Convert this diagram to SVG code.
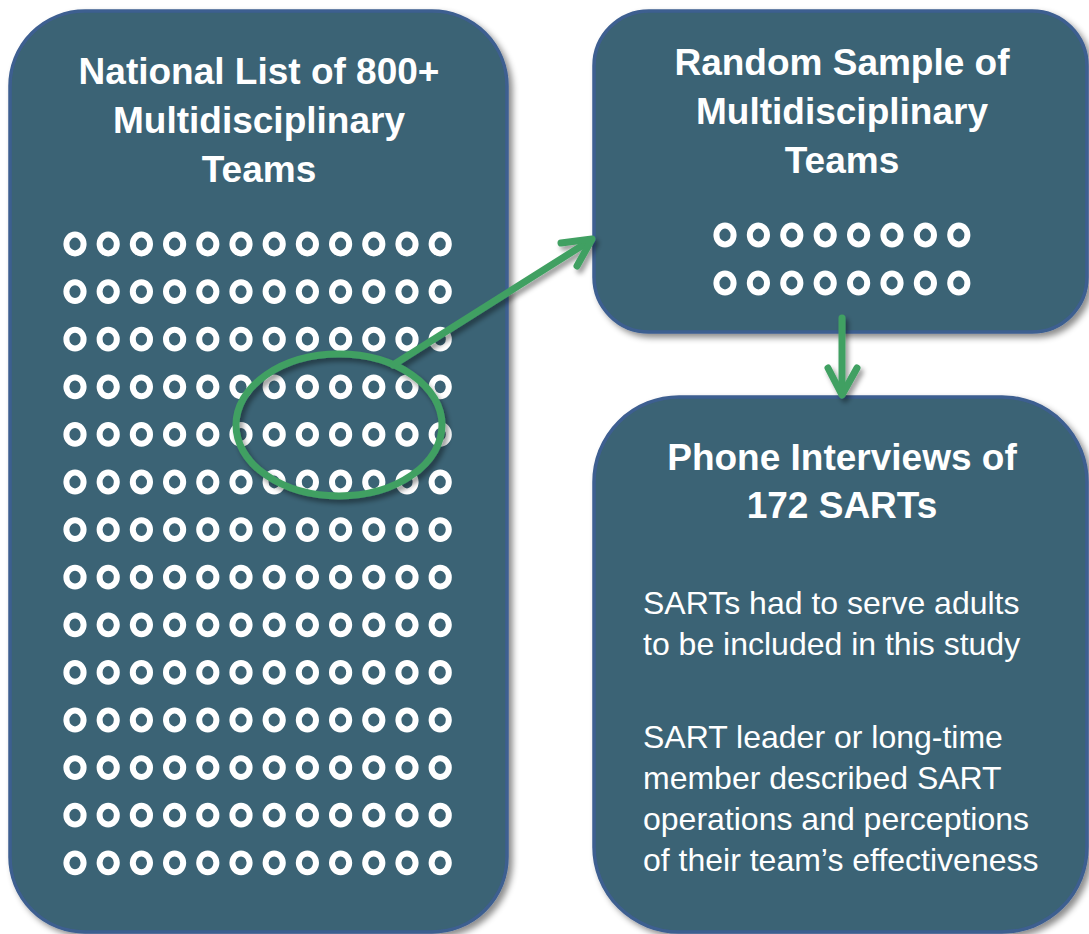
<svg xmlns="http://www.w3.org/2000/svg" xmlns:xlink="http://www.w3.org/1999/xlink" width="1089" height="934" viewBox="0 0 1089 934">
<style>
.box{fill:#3B6374;stroke:#3D5E90;stroke-width:3.5}
.title{font-family:"Liberation Sans",Arial,sans-serif;font-weight:bold;font-size:37px;fill:#FFFFFF;text-anchor:middle}
.body{font-family:"Liberation Sans",Arial,sans-serif;font-size:32px;fill:#FFFFFF}
.dot{fill:none;stroke:#FFFFFF;stroke-width:6}
.conn{fill:none;stroke:#41A062;stroke-width:7;stroke-linecap:round;stroke-linejoin:round}
</style>
<defs>
<filter id="sh" x="-10%" y="-10%" width="125%" height="125%">
<feDropShadow dx="4" dy="4" stdDeviation="3" flood-color="#000" flood-opacity="0.45"/>
</filter>
<filter id="sh2" x="-20%" y="-20%" width="150%" height="150%">
<feDropShadow dx="3" dy="4" stdDeviation="2.5" flood-color="#000" flood-opacity="0.4"/>
</filter>
<ellipse id="o" class="dot" cx="0" cy="0" rx="8.6" ry="9.4"/>
<g id="row12">
<use href="#o" x="75" y="0"/><use href="#o" x="108.2" y="0"/><use href="#o" x="141.4" y="0"/><use href="#o" x="174.6" y="0"/>
<use href="#o" x="207.8" y="0"/><use href="#o" x="241" y="0"/><use href="#o" x="274.2" y="0"/><use href="#o" x="307.4" y="0"/>
<use href="#o" x="340.6" y="0"/><use href="#o" x="373.8" y="0"/><use href="#o" x="407" y="0"/><use href="#o" x="440.2" y="0"/>
</g>
<g id="row8">
<use href="#o" x="725" y="0"/><use href="#o" x="758.4" y="0"/><use href="#o" x="791.8" y="0"/><use href="#o" x="825.2" y="0"/>
<use href="#o" x="858.6" y="0"/><use href="#o" x="892" y="0"/><use href="#o" x="925.4" y="0"/><use href="#o" x="958.8" y="0"/>
</g>
</defs>
<rect width="1089" height="934" fill="#FFFFFF"/>

<g id="national-list">
<rect class="box" x="10" y="11" width="497" height="921" rx="75" ry="75" filter="url(#sh)"/>
<text class="title" x="259" y="84">National List of 800+</text>
<text class="title" x="259" y="133">Multidisciplinary</text>
<text class="title" x="259" y="182">Teams</text>
<g id="list-dots">
<use href="#row12" y="244"/><use href="#row12" y="291.6"/><use href="#row12" y="339.2"/><use href="#row12" y="386.8"/>
<use href="#row12" y="434.4"/><use href="#row12" y="482"/><use href="#row12" y="529.6"/><use href="#row12" y="577.2"/>
<use href="#row12" y="624.8"/><use href="#row12" y="672.4"/><use href="#row12" y="720"/><use href="#row12" y="767.6"/>
<use href="#row12" y="815.2"/><use href="#row12" y="862.8"/>
</g>
</g>

<g id="random-sample">
<rect class="box" x="594" y="11" width="493" height="321" rx="55" ry="55" filter="url(#sh)"/>
<text class="title" x="842" y="75">Random Sample of</text>
<text class="title" x="842" y="124">Multidisciplinary</text>
<text class="title" x="842" y="173">Teams</text>
<use href="#row8" y="235"/>
<use href="#row8" y="283"/>
</g>

<g id="phone-interviews">
<rect class="box" x="594" y="397" width="493" height="535" rx="85" ry="85" filter="url(#sh)"/>
<text class="title" x="842" y="470">Phone Interviews of</text>
<text class="title" x="842" y="518">172 SARTs</text>
<text class="body" x="643" y="614">SARTs had to serve adults</text>
<text class="body" x="643" y="655">to be included in this study</text>
<text class="body" x="643" y="748">SART leader or long-time</text>
<text class="body" x="643" y="789">member described SART</text>
<text class="body" x="643" y="830">operations and perceptions</text>
<text class="body" x="643" y="871">of their team’s effectiveness</text>
</g>

<g id="connectors" filter="url(#sh2)">
<ellipse class="conn" cx="339" cy="425" rx="103" ry="71" stroke-width="6"/>
<path class="conn" d="M393 365 L591 240" stroke-width="6.5"/>
<path class="conn" d="M561 243 L592 239 L577 266" stroke-width="6.5"/>
<path class="conn" d="M842 318 L842 393"/>
<path class="conn" d="M828 368 L842 395 L857 368"/>
</g>
</svg>
